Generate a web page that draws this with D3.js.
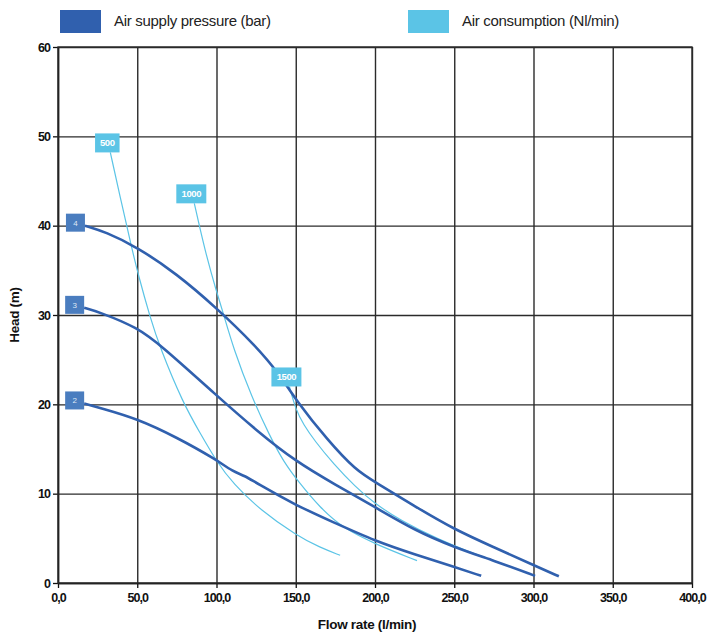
<!DOCTYPE html>
<html>
<head>
<meta charset="utf-8">
<script src="https://cdn.jsdelivr.net/npm/d3@7"></script>
<style>
  body { margin: 0; background: #fff; }
  svg text { font-family: "Liberation Sans", Arial, sans-serif; }
</style>
</head>
<body>
<svg id="chart"></svg>
<script>
// ---- data ----
var flow_ticks = [0, 50, 100, 150, 200, 250, 300, 350, 400];
var head_ticks = [0, 10, 20, 30, 40, 50, 60];

// air supply pressure curves (bar) : [flow l/min, head m]
var pressure_names = ["4", "3", "2"];
var pressure_4 = [[17, 40], [30, 39.3], [50, 37.6], [75, 34.6], [100, 30.8], [125, 26.5], [140, 23.3], [150, 20.5],
                  [170, 16.0], [188, 12.6], [200, 11.3], [225, 8.6], [250, 6.0], [275, 4.0], [300, 2.0], [316, 0.75]];
var pressure_3 = [[16.5, 30.8], [26.5, 30.3], [50, 28.6], [65, 26.6], [100, 21.0], [125, 17.1], [150, 13.6],
                  [175, 11.0], [200, 8.5], [225, 5.9], [250, 4.0], [275, 2.5], [301, 0.8]];
var pressure_2 = [[16.5, 20.1], [26.5, 19.6], [50, 18.4], [75, 16.3], [100, 13.8], [110, 12.5], [118, 12.0],
                  [125, 11.2], [150, 8.7], [175, 6.7], [200, 4.7], [225, 3.2], [250, 1.8], [267, 0.8]];

// air consumption curves (Nl/min)
var consumption_names = ["500", "1000", "1500"];
var consumption_500 = [[33, 48.2], [40, 42.6], [46.5, 37.5], [50.5, 34.6], [58, 29.8], [64.4, 26.3], [79, 20.1],
                       [89.6, 16.8], [100, 13.6], [110.6, 11.1], [127.4, 8.2], [150.6, 5.3], [165, 4.0], [178, 3.1]];
var consumption_1000 = [[86, 42.5], [92.7, 37.2], [100, 32.6], [104.3, 30.2], [110.6, 26.3], [122.2, 20.8],
                        [133.8, 16.4], [142.2, 13.6], [152.7, 11.1], [165, 8.5], [180, 6.1], [201, 4.3], [226.5, 2.5]];
var consumption_1500 = [[146, 22.0], [150, 19.4], [155, 17.7], [162, 15.9], [173.5, 13.4], [188, 10.7], [199, 9.0],
                        [216, 7.0], [241, 4.8], [258, 3.6], [275, 2.5]];

var legend_labels = ["Air supply pressure (bar)", "Air consumption (Nl/min)"];

// ---- layout ----
var width = 707, height = 633;
var margin = {top: 47, right: 15, bottom: 50, left: 58};
var plot_w = width - margin.left - margin.right;
var plot_h = height - margin.top - margin.bottom;

var col_dark = "#3060ae";
var col_dark_box = "#4a7dbf";
var col_light = "#5bc4e6";

var svg = d3.select("svg#chart")
    .attr("width", width)
    .attr("height", height);

var x = d3.scaleLinear().domain([0, 400]).range([0, plot_w]);
var y = d3.scaleLinear().domain([0, 60]).range([plot_h, 0]);

var g = svg.append("g")
    .attr("transform", "translate(" + margin.left + "," + margin.top + ")");

// grid
g.append("g")
    .attr("class", "grid-x")
    .attr("transform", "translate(0," + plot_h + ")")
    .call(d3.axisBottom(x).tickValues(flow_ticks).tickSize(-plot_h).tickFormat(function() { return ""; }))
    .call(function(a) { a.select(".domain").remove(); })
    .selectAll("line").attr("stroke", "#2b2b2b").attr("stroke-width", 1.4);

g.append("g")
    .attr("class", "grid-y")
    .call(d3.axisLeft(y).tickValues(head_ticks).tickSize(-plot_w).tickFormat(function() { return ""; }))
    .call(function(a) { a.select(".domain").remove(); })
    .selectAll("line").attr("stroke", "#2b2b2b").attr("stroke-width", 1.4);

// axes with small outer ticks
var x_axis = g.append("g")
    .attr("transform", "translate(0," + plot_h + ")")
    .call(d3.axisBottom(x).tickValues(flow_ticks).tickSize(5).tickSizeOuter(0).tickPadding(5)
        .tickFormat(function(d) { return d3.format(".1f")(d).replace(".", ","); }));

var y_axis = g.append("g")
    .call(d3.axisLeft(y).tickValues(head_ticks).tickSize(5).tickSizeOuter(0).tickPadding(3));

[x_axis, y_axis].forEach(function(a) {
    a.select(".domain").attr("stroke", "#111").attr("stroke-width", 1.5);
    a.selectAll(".tick line").attr("stroke", "#111").attr("stroke-width", 1.3);
    a.selectAll("text")
        .attr("fill", "#111")
        .attr("font-size", 12.5)
        .attr("font-weight", "bold")
        .attr("letter-spacing", "-1px");
});

// plot frame
g.append("rect")
    .attr("width", plot_w).attr("height", plot_h)
    .attr("fill", "none").attr("stroke", "#2b2b2b").attr("stroke-width", 1.4);

// axis titles
svg.append("text")
    .attr("x", margin.left + x(200) - 8).attr("y", height - 4)
    .attr("text-anchor", "middle")
    .attr("font-size", 13.5).attr("font-weight", "bold").attr("fill", "#111")
    .attr("letter-spacing", "-0.3px")
    .text("Flow rate (l/min)");

svg.append("text")
    .attr("transform", "translate(19," + (margin.top + y(30)) + ") rotate(-90)")
    .attr("text-anchor", "middle")
    .attr("font-size", 13.5).attr("font-weight", "bold").attr("fill", "#111")
    .attr("letter-spacing", "-0.3px")
    .text("Head (m)");

// curves
var line = d3.line()
    .x(function(d) { return x(d[0]); })
    .y(function(d) { return y(d[1]); })
    .curve(d3.curveBasis);

var consumption = [consumption_500, consumption_1000, consumption_1500];
var pressure = [pressure_4, pressure_3, pressure_2];

g.selectAll(".cons")
    .data(consumption)
    .enter().append("path")
    .attr("class", "cons")
    .attr("d", line)
    .attr("fill", "none")
    .attr("stroke", col_light)
    .attr("stroke-width", 1.2);

g.selectAll(".press")
    .data(pressure)
    .enter().append("path")
    .attr("class", "press")
    .attr("d", line)
    .attr("fill", "none")
    .attr("stroke", col_dark)
    .attr("stroke-width", 2.6);

// labels on curve starts
var p_lab = g.selectAll(".p-lab")
    .data(pressure)
    .enter().append("g")
    .attr("class", "p-lab")
    .attr("transform", function(d) { return "translate(" + x(d[0][0]) + "," + (y(d[0][1]) - 3) + ")"; });

p_lab.append("rect")
    .attr("x", -19).attr("y", -9).attr("width", 19).attr("height", 18)
    .attr("fill", col_dark_box);

p_lab.append("text")
    .attr("x", -9.5).attr("y", 3)
    .attr("text-anchor", "middle")
    .attr("font-size", 8).attr("fill", "#dfe8f5")
    .text(function(d, i) { return pressure_names[i]; });

var c_lab = g.selectAll(".c-lab")
    .data(consumption)
    .enter().append("g")
    .attr("class", "c-lab")
    .attr("transform", function(d) { return "translate(" + (x(d[0][0]) - 3) + "," + y(d[0][1]) + ")"; });

c_lab.append("rect")
    .attr("x", function(d, i) { return -(consumption_names[i].length * 5.5 + 8) / 2; })
    .attr("y", -19)
    .attr("width", function(d, i) { return consumption_names[i].length * 5.5 + 8; })
    .attr("height", 19)
    .attr("fill", col_light);

c_lab.append("text")
    .attr("x", 0).attr("y", -6)
    .attr("text-anchor", "middle")
    .attr("font-size", 9.5).attr("font-weight", "bold").attr("fill", "#fff")
    .attr("letter-spacing", "-0.4px")
    .text(function(d, i) { return consumption_names[i]; });

// legend
var legend_x = [60, 408];
var legend_cols = [col_dark, col_light];
var leg = svg.selectAll(".leg")
    .data(legend_labels)
    .enter().append("g")
    .attr("class", "leg")
    .attr("transform", function(d, i) { return "translate(" + legend_x[i] + ",10)"; });

leg.append("rect")
    .attr("width", 41).attr("height", 23)
    .attr("fill", function(d, i) { return legend_cols[i]; });

leg.append("text")
    .attr("x", 54).attr("y", 16)
    .attr("font-size", 15).attr("fill", "#222")
    .attr("letter-spacing", "-0.3px")
    .text(function(d) { return d; });
</script>
</body>
</html>
